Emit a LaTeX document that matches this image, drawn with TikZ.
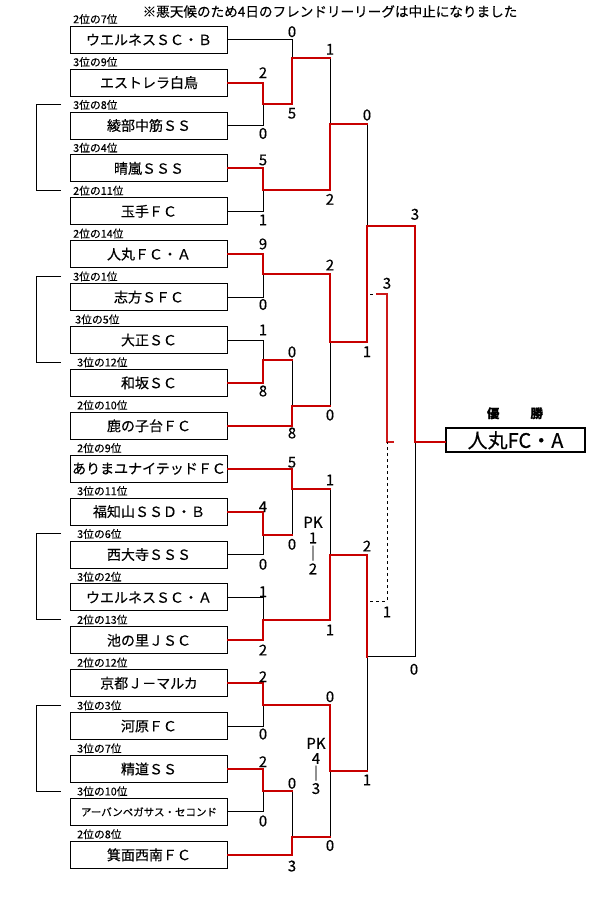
\documentclass[tikz,border=0pt]{standalone}
\usepackage{fontspec}
\setmainfont[FakeBold=0.3]{Noto Sans CJK JP}
\usepackage{tikz}
\definecolor{winred}{RGB}{200,0,0}
\tikzset{
  team/.style={draw,line width=1pt,minimum width=157pt,minimum height=27pt,inner sep=0pt,font=\fontsize{14}{14}\selectfont},
  rank/.style={anchor=base west,inner sep=0pt,font=\fontsize{10.8}{10.8}\selectfont},
  score/.style={inner sep=0pt,font=\fontsize{15}{15}\selectfont},
  won/.style={draw=winred,line width=2pt,line cap=rect},
  lost/.style={draw=black,line width=1pt,line cap=rect},
  third/.style={draw=winred!90,line width=1.2pt},
}

\begin{document}
\begin{tikzpicture}[x=1pt,y=-1pt]
  \useasboundingbox (0,0) rectangle (610,900);
  \node[font=\fontsize{13.6}{13.6}\selectfont] (title) at (330,11.5) {※悪天候のため4日のフレンドリーリーグは中止になりました};

  \node[team] (t0) at (149,39.7) {ウエルネスＳＣ・Ｂ};
  \node[team] (t1) at (149,82.6) {エストレラ白鳥};
  \node[team] (t2) at (149,125.5) {綾部中筋ＳＳ};
  \node[team] (t3) at (149,168.4) {晴嵐ＳＳＳ};
  \node[team] (t4) at (149,211.3) {玉手ＦＣ};
  \node[team] (t5) at (149,254.2) {人丸ＦＣ・Ａ};
  \node[team] (t6) at (149,297.1) {志方ＳＦＣ};
  \node[team] (t7) at (149,340) {大正ＳＣ};
  \node[team] (t8) at (149,382.9) {和坂ＳＣ};
  \node[team] (t9) at (149,425.8) {鹿の子台ＦＣ};
  \node[team] (t10) at (149,468.7) {ありまユナイテッドＦＣ};
  \node[team] (t11) at (149,511.6) {福知山ＳＳＤ・Ｂ};
  \node[team] (t12) at (149,554.5) {西大寺ＳＳＳ};
  \node[team] (t13) at (149,597.4) {ウエルネスＳＣ・Ａ};
  \node[team] (t14) at (149,640.3) {池の里ＪＳＣ};
  \node[team] (t15) at (149,683.2) {京都Ｊ－マルカ};
  \node[team] (t16) at (149,726.1) {河原ＦＣ};
  \node[team] (t17) at (149,769) {精道ＳＳ};
  \node[team,font=\fontsize{10.5}{10.5}\selectfont] (t18) at (149,811.9) {アーバンペガサス・セコンド};
  \node[team] (t19) at (149,854.8) {箕面西南ＦＣ};

  \node[rank] (r0) at (73,23.2) {2位の7位};
  \node[rank] (r1) at (73,66.1) {3位の9位};
  \node[rank] (r2) at (73,109) {3位の8位};
  \node[rank] (r3) at (73,151.9) {3位の4位};
  \node[rank] (r4) at (73,194.8) {2位の11位};
  \node[rank] (r5) at (73,237.7) {2位の14位};
  \node[rank] (r6) at (73,280.6) {3位の1位};
  \node[rank] (r7) at (75,323.5) {3位の5位};
  \node[rank] (r8) at (77,366.4) {3位の12位};
  \node[rank] (r9) at (77,409.3) {2位の10位};
  \node[rank] (r10) at (77,452.2) {2位の9位};
  \node[rank] (r11) at (77,495.1) {3位の11位};
  \node[rank] (r12) at (77,538) {3位の6位};
  \node[rank] (r13) at (77,580.9) {3位の2位};
  \node[rank] (r14) at (77,623.8) {2位の13位};
  \node[rank] (r15) at (77,666.7) {2位の12位};
  \node[rank] (r16) at (77,709.6) {3位の3位};
  \node[rank] (r17) at (77,752.5) {3位の7位};
  \node[rank] (r18) at (77,795.4) {3位の10位};
  \node[rank] (r19) at (77,838.3) {2位の8位};

  \coordinate (ax) at (36,0);
  \coordinate (bx) at (61,0);
  \draw[lost,line cap=butt] (bx |- r2.west) -- (ax |- r2.west) -- (ax |- r4.west) -- (bx |- r4.west);
  \draw[lost,line cap=butt] (bx |- r6.west) -- (ax |- r6.west) -- (ax |- r8.west) -- (bx |- r8.west);
  \draw[lost,line cap=butt] (bx |- r12.west) -- (ax |- r12.west) -- (ax |- r14.west) -- (bx |- r14.west);
  \draw[lost,line cap=butt] (bx |- r16.west) -- (ax |- r16.west) -- (ax |- r18.west) -- (bx |- r18.west);

  \coordinate (j1) at (263,104);
  \coordinate (j2) at (292,57.7);
  \coordinate (j3) at (263,190);
  \coordinate (j4) at (330,123.7);
  \coordinate (j5) at (263,274);
  \coordinate (j6) at (263,360);
  \coordinate (j7) at (292,405.7);
  \coordinate (j8) at (330,341.5);
  \coordinate (j9) at (367,225.7);
  \coordinate (j10) at (263,535);
  \coordinate (j11) at (292,489);
  \coordinate (j12) at (263,620);
  \coordinate (j13) at (330,555);
  \coordinate (j14) at (263,704.5);
  \coordinate (j15) at (263,791);
  \coordinate (j16) at (292,836.7);
  \coordinate (j17) at (330,771);
  \coordinate (j18) at (367,656.7);
  \coordinate (jf) at (415,442);

  \node[draw,line width=2pt,minimum width=139pt,minimum height=24pt,inner sep=0pt,font=\fontsize{20}{20}\selectfont] (champ) at (515.5,440.3) {人丸FC・A};
  \node[font=\fontsize{12.5}{12.5}\selectfont\bfseries] (yusho) at (515,413.3) {優\hspace{31pt}勝};

  \draw[lost] (t0.east) -| (j2);
  \draw[lost] (t2.east) -| (j1);
  \draw[lost] (t4.east) -| (j3);
  \draw[lost] (t6.east) -| (j5);
  \draw[lost] (t7.east) -| (j6);
  \draw[lost] (t12.east) -| (j10);
  \draw[lost] (t13.east) -| (j12);
  \draw[lost] (t16.east) -| (j14);
  \draw[lost] (t18.east) -| (j15);
  \draw[lost] (j2 -| j4) -- (j4);
  \draw[lost] (j6 -| j7) -- (j7);
  \draw[lost] (j7 -| j8) -- (j8);
  \draw[lost] (j4 -| j9) -- (j9);
  \draw[lost] (j10 -| j11) -- (j11);
  \draw[lost] (j11 -| j13) -- (j13);
  \draw[lost] (j15 -| j16) -- (j16);
  \draw[lost] (j16 -| j17) -- (j17);
  \draw[lost] (j17 -| j18) -- (j18);
  \draw[lost] (j18) -| (jf);

  \draw[won] (t1.east) -| (j1) -| (j2) -- (j2 -| j4);
  \draw[won] (t3.east) -| (j3) -| (j4) -- (j4 -| j9);
  \draw[won] (t5.east) -| (j5) -| (j8) -| (j9) -| (jf) -- (champ.west |- jf);
  \draw[won] (t8.east) -| (j6) -- (j6 -| j7);
  \draw[won] (t9.east) -| (j7) -- (j7 -| j8);
  \draw[won] (t10.east) -| (j11) -- (j11 -| j13);
  \draw[won] (t11.east) -| (j10) -- (j10 -| j11);
  \draw[won] (t14.east) -| (j12) -| (j13) -| (j18);
  \draw[won] (t15.east) -| (j14) -| (j17) -- (j17 -| j18);
  \draw[won] (t17.east) -| (j15) -- (j15 -| j16);
  \draw[won] (t19.east) -| (j16) -- (j16 -| j17);

  \coordinate (q1) at (370,294);
  \coordinate (q2) at (370,601);
  \coordinate (qj) at (387,442);
  \coordinate (qe) at (394,442);
  \draw[lost,line width=0.8pt,line cap=butt,dashed] (q1) -- ([xshift=6pt]q1);
  \draw[third] ([xshift=6pt]q1) -| (qj) -- (qe);
  \draw[lost,line width=0.8pt,line cap=butt,dashed] (q2) -| (qj);

  \node[score] (s1a) at (263,72.7) {2};
  \node[score] (s1b) at (263,133.5) {0};
  \node[score] (s2a) at (292,31.7) {0};
  \node[score] (s2b) at (292,113.3) {5};
  \node[score] (s3a) at (263,160) {5};
  \node[score] (s3b) at (263,220) {1};
  \node[score] (s4a) at (330,49.3) {1};
  \node[score] (s4b) at (330,199.3) {2};
  \node[score] (s5a) at (263,244) {9};
  \node[score] (s5b) at (263,304.5) {0};
  \node[score] (s6a) at (263,330) {1};
  \node[score] (s6b) at (263,391) {8};
  \node[score] (s7a) at (292,352) {0};
  \node[score] (s7b) at (292,433) {8};
  \node[score] (s8a) at (330,265) {2};
  \node[score] (s8b) at (330,415) {0};
  \node[score] (s9a) at (367,115) {0};
  \node[score] (s9b) at (367,351.7) {1};
  \node[score] (sfa) at (415,214.3) {3};
  \node[score] (sfb) at (414,669.3) {0};
  \node[score] (sqa) at (387,283.3) {3};
  \node[score] (sqb) at (387,612) {1};
  \node[score] (s10a) at (263,506.7) {4};
  \node[score] (s10b) at (263,564.3) {0};
  \node[score] (s11a) at (292,462.3) {5};
  \node[score] (s11b) at (292,544.3) {0};
  \node[score] (s12a) at (263,591.7) {1};
  \node[score] (s12b) at (263,650) {2};
  \node[score] (s13a) at (330,480) {1};
  \node[score] (s13b) at (330,630) {1};
  \node[score] (s14a) at (263,676.7) {2};
  \node[score] (s14b) at (263,734) {0};
  \node[score] (s15a) at (263,761.7) {2};
  \node[score] (s15b) at (263,821) {0};
  \node[score] (s16a) at (292,783.3) {0};
  \node[score] (s16b) at (292,866) {3};
  \node[score] (s17a) at (330,696.7) {0};
  \node[score] (s17b) at (330,845.5) {0};
  \node[score] (s18a) at (367,546) {2};
  \node[score] (s18b) at (367,780) {1};

  \node[score,align=center,font=\fontsize{15}{15.5}\selectfont] (pk1) at (313,545.5) {PK\\1\\｜\\2};
  \node[score,align=center,font=\fontsize{15}{15}\selectfont] (pk2) at (316,766) {PK\\4\\｜\\3};
\end{tikzpicture}
\end{document}
